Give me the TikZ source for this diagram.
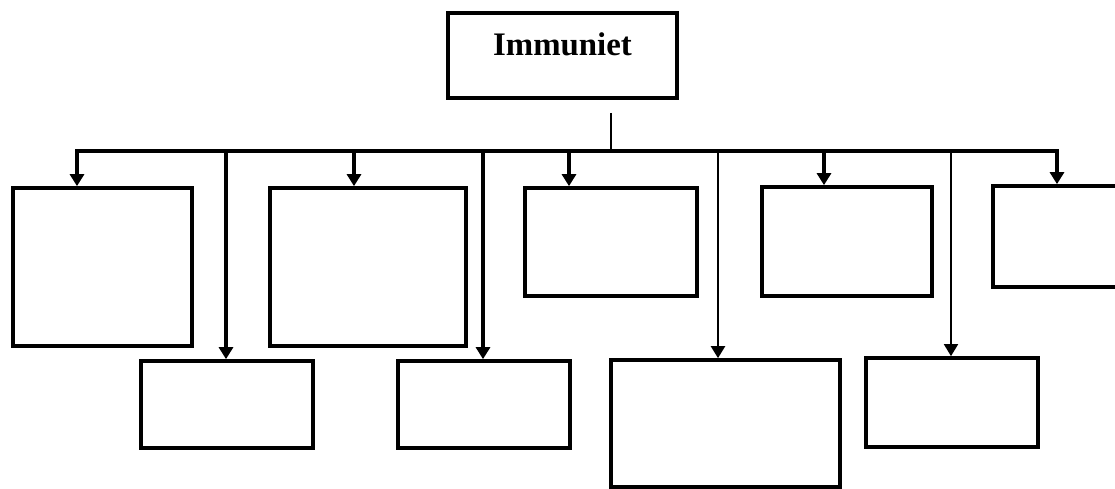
\documentclass[tikz,border=0pt]{standalone}
\usepackage{fontspec}
\setmainfont{Liberation Serif}
\usetikzlibrary{arrows.meta, positioning}

\tikzset{
    box/.style={draw, line width=2.1pt, inner sep=0pt},
    feed/.style={line width=2.1pt, -{Triangle[width=0.28cm, length=0.24cm]}},
    bothfeed/.style={line width=2.2pt, {Triangle[width=0.28cm, length=0.24cm]}-{Triangle[width=0.28cm, length=0.24cm]}},
}

\begin{document}
\begin{tikzpicture}
    \useasboundingbox (0,0) rectangle (22.3,9.78);
    \clip (0,0) rectangle (22.3,9.78);

    % Top box
    \node[box, minimum width=4.58cm, minimum height=1.70cm] (top) at (11.25,8.67) {};
    \node[font=\fontsize{18.7}{22}\selectfont\bfseries] (title) at ([yshift=0.23cm]top.center) {Immuniet};

    % Upper row
    \node[box, minimum width=3.58cm, minimum height=3.16cm] (A) at (2.05,4.44) {};
    \node[box, minimum width=3.92cm, minimum height=3.16cm] (B) at (7.36,4.44) {};
    \node[box, minimum width=3.44cm, minimum height=2.16cm] (C) at (12.22,4.94) {};
    \node[box, minimum width=3.40cm, minimum height=2.18cm] (D) at (16.94,4.95) {};
    \node[box, minimum width=2.94cm, minimum height=2.02cm] (E) at (21.33,5.05) {};

    % Lower row
    \node[box, minimum width=3.44cm, minimum height=1.74cm] (F) at (4.54,1.69) {};
    \node[box, minimum width=3.44cm, minimum height=1.74cm] (G) at (9.68,1.69) {};
    \node[box, minimum width=4.58cm, minimum height=2.54cm] (H) at (14.51,1.31) {};
    \node[box, minimum width=3.44cm, minimum height=1.78cm] (I) at (19.04,1.73) {};

    % Points on the bus line
    \coordinate (stub) at (12.22,7.52);
    \coordinate (bA) at (1.54,6.76);
    \coordinate (bB) at (7.08,6.76);
    \coordinate (bC) at (11.38,6.76);
    \coordinate (bD) at (16.48,6.76);
    \coordinate (bE) at (21.14,6.76);
    \coordinate (bF) at (4.52,6.76);
    \coordinate (bG) at (9.66,6.76);
    \coordinate (bH) at (14.36,6.76);
    \coordinate (bI) at (19.02,6.76);

    % Bus
    \draw[line width=1.4pt] (stub) -- (stub |- bA);
    \draw[bothfeed] (bA |- A.north) -- (bA) -- (bE) -- (bE |- E.north);

    % Drops to the upper row
    \draw[feed] (bB) -- (bB |- B.north);
    \draw[feed] (bC) -- (bC |- C.north);
    \draw[feed] (bD) -- (bD |- D.north);

    % Drops to the lower row
    \draw[feed] (bF) -- (bF |- F.north);
    \draw[feed] (bG) -- (bG |- G.north);
    \draw[feed, line width=1.3pt] (bH) -- (bH |- H.north);
    \draw[feed, line width=1pt] (bI) -- (bI |- I.north);
\end{tikzpicture}
\end{document}
